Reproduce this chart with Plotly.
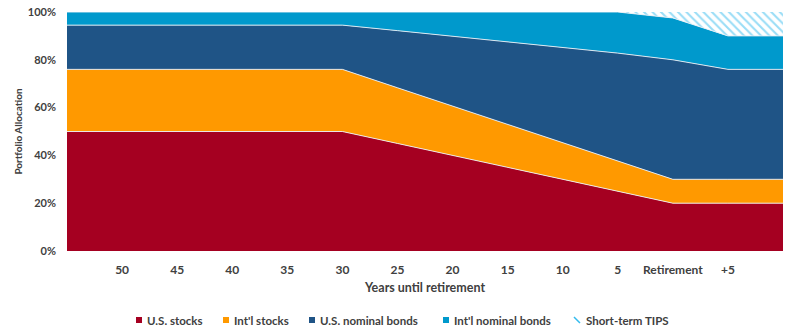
import plotly.graph_objects as go

x_idx = list(range(14))
x_labels = ["", "50", "45", "40", "35", "30", "25", "20", "15", "10", "5", "Retirement", "+5", ""]

us_stocks = [50, 50, 50, 50, 50, 50, 45, 40, 35, 30, 25, 20, 20, 20]
intl_stocks = [26, 26, 26, 26, 26, 26, 23.3, 20.7, 18, 15.3, 12.7, 10, 10, 10]
us_bonds = [18.5, 18.5, 18.5, 18.5, 18.5, 18.5, 23.9, 29.1, 34.5, 39.9, 45.1, 50, 46, 46]
intl_bonds = [5.5, 5.5, 5.5, 5.5, 5.5, 5.5, 7.8, 10.2, 12.5, 14.8, 17.2, 17.5, 14, 14]
tips = [0, 0, 0, 0, 0, 0, 0, 0, 0, 0, 0, 2.5, 10, 10]

names = ["U.S. stocks", "Int'l stocks", "U.S. nominal bonds", "Int'l nominal bonds", "Short-term TIPS"]
colors = ["#A50021", "#FF9900", "#1F5486", "#0099CC", "#33BBEE"]
series = [us_stocks, intl_stocks, us_bonds, intl_bonds, tips]

W, H = 800, 336
L, R, T, B = 67, 17, 12, 85
PW, PH = W - L - R, H - T - B

fig = go.Figure()
for i, (nm, col, vals) in enumerate(zip(names, colors, series)):
    if i == 4:
        kw = dict(fillpattern=dict(shape="\\", fgcolor=col, bgcolor="white", size=6, solidity=0.35),
                  fillcolor="white")
    else:
        kw = dict(fillcolor=col)
    fig.add_trace(go.Scatter(
        x=x_idx, y=vals, name=nm, stackgroup="one", mode="lines",
        line=dict(color="rgba(235,240,245,0.9)" if i < 4 else "rgba(0,0,0,0)", width=1),
        showlegend=False, hoverinfo="skip", **kw))

# custom legend (symbols as shapes, labels as annotations)
leg_sym_px = [139, 226, 312, 446, 577]
leg_txt_px = [145, 232, 318, 452, 584]
leg_y_px = 320
ly = -(leg_y_px - (H - B)) / PH
shapes, annots = [], []
for i, (nm, col) in enumerate(zip(names, colors)):
    xs = (leg_sym_px[i] - L) / PW
    if i < 4:
        shapes.append(dict(type="rect", xref="paper", yref="paper", xsizemode="pixel", ysizemode="pixel",
                           xanchor=xs, yanchor=ly, x0=-3, x1=3, y0=-3, y1=3,
                           fillcolor=col, line=dict(width=0)))
    else:
        shapes.append(dict(type="line", xref="paper", yref="paper", xsizemode="pixel", ysizemode="pixel",
                           xanchor=xs, yanchor=ly, x0=-3, x1=3, y0=3, y1=-3,
                           line=dict(color=col, width=1.5)))
    annots.append(dict(text="<b>" + nm + "</b>", xref="paper", yref="paper", x=(leg_txt_px[i] - L) / PW, y=ly,
                       xanchor="left", yanchor="middle", showarrow=False,
                       font=dict(size=11.5, color="#404040", family="Lato")))

fig.update_layout(
    width=W, height=H,
    margin=dict(l=L, r=R, t=T, b=B),
    plot_bgcolor="white", paper_bgcolor="white",
    font=dict(family="Lato", size=11, color="#404040"),
    showlegend=False,
    shapes=shapes, annotations=annots,
    xaxis=dict(range=[0, 13], tickmode="array", tickvals=x_idx, ticktext=x_labels,
               showgrid=False, zeroline=False, showline=False, ticks="", automargin=False,
               ticklabelstandoff=10,
               tickfont=dict(size=12, color="#404040", weight="bold"),
               title=dict(text="<b>Years until retirement</b>", font=dict(size=12.5, color="#404040"), standoff=7)),
    yaxis=dict(range=[0, 100], tickvals=[0, 20, 40, 60, 80, 100],
               ticktext=["0%", "20%", "40%", "60%", "80%", "100%"],
               showgrid=False, zeroline=False, showline=False, ticks="", automargin=False,
               ticklabelstandoff=10,
               tickfont=dict(size=11, color="#404040", weight="bold"),
               title=dict(text="<b>Portfolio Allocation</b>", font=dict(size=10, color="#404040"), standoff=3)),
)
fig.write_html("out.html")
